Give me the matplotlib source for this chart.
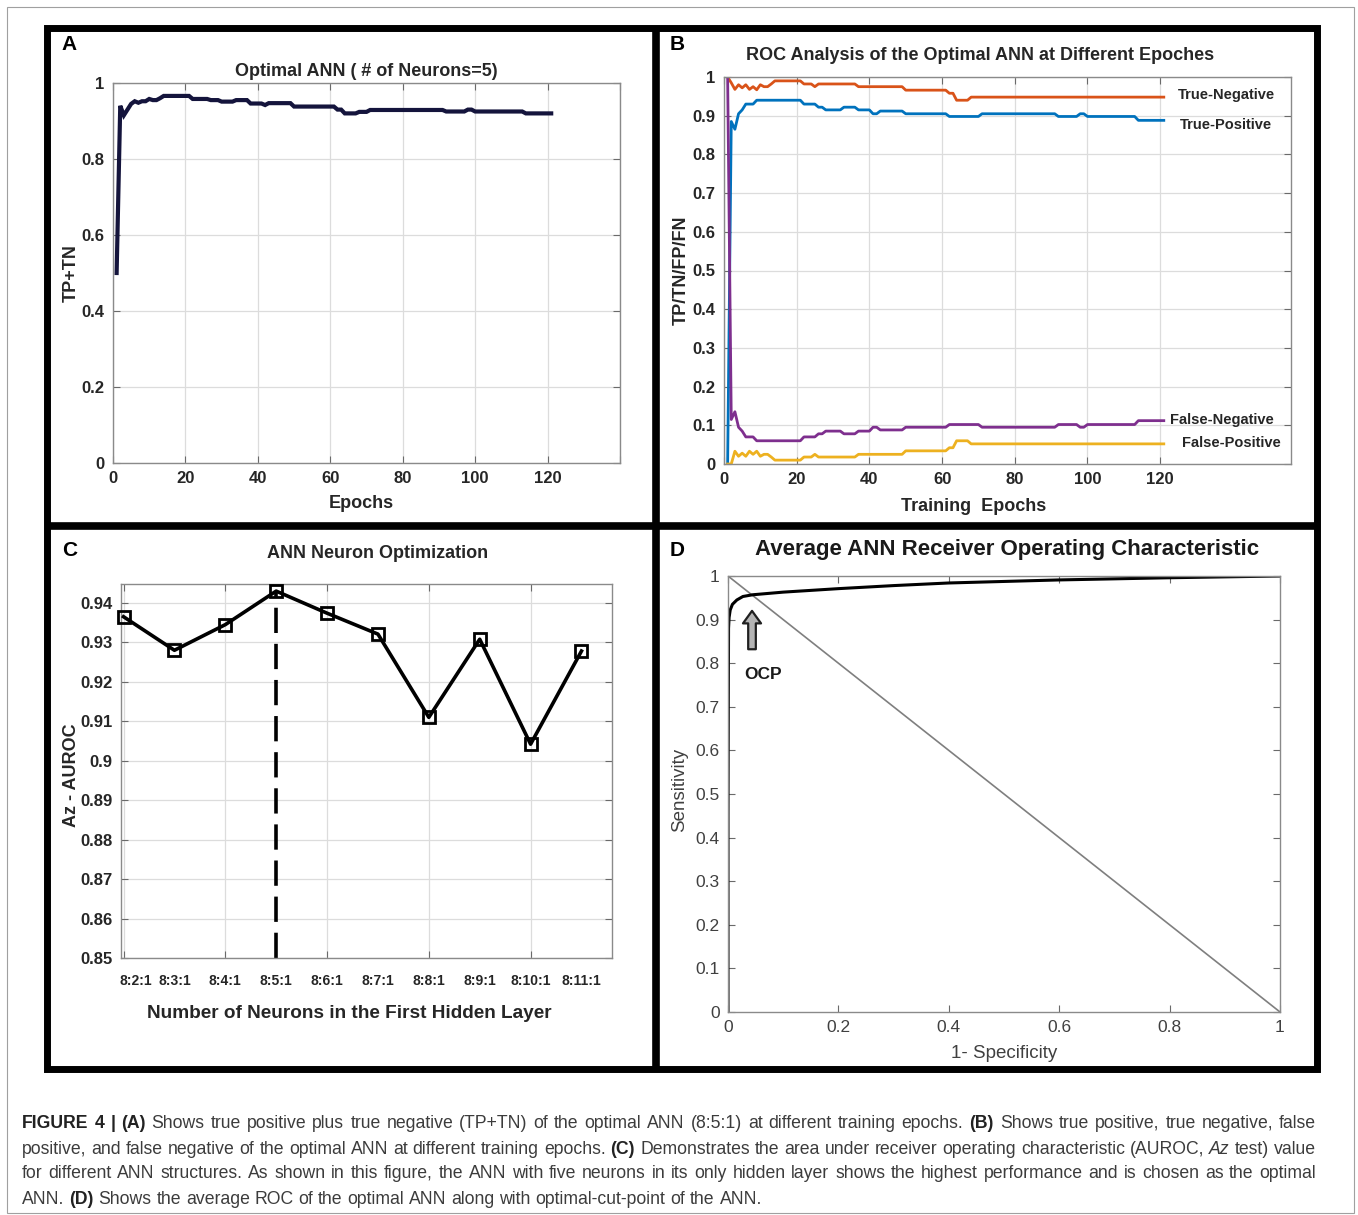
import numpy as np
import matplotlib
matplotlib.use("Agg")
import matplotlib.pyplot as plt
from matplotlib.patches import Rectangle
from matplotlib.lines import Line2D
from matplotlib.ticker import FuncFormatter

plt.rcParams['font.family'] = ['Liberation Sans', 'DejaVu Sans']

W, H = 1358, 1215

# ---------------- data ----------------
# Panel A: TP+TN per epoch (levels and how many epochs each lasts)
a_levels = [0.50, 0.94, 0.915, 0.93, 0.945, 0.952, 0.948, 0.952, 0.958, 0.955, 0.96, 0.966,
            0.958, 0.955, 0.951, 0.955, 0.946, 0.942, 0.947, 0.938, 0.93, 0.92, 0.924, 0.929,
            0.925, 0.93, 0.925, 0.92]
a_counts = [1, 1, 1, 1, 1, 1, 1, 2, 1, 2, 1, 8, 5, 3, 4, 4, 4, 1, 7, 12, 2, 4, 3, 21, 6, 2, 14, 8]

# Panel B
tn_levels = [1.0, 0.985, 0.968, 0.98, 0.972, 0.98, 0.968, 0.975, 0.967, 0.98, 0.975, 0.982,
             0.99, 0.982, 0.975, 0.982, 0.975, 0.966, 0.958, 0.94, 0.948]
fp_levels = [0.0, 0.0, 0.033, 0.02, 0.028, 0.02, 0.033, 0.025, 0.033, 0.02, 0.025, 0.018,
             0.01, 0.018, 0.025, 0.018, 0.025, 0.034, 0.042, 0.06, 0.052]
tn_counts = [1, 1, 1, 1, 1, 1, 1, 1, 1, 1, 2, 1, 8, 3, 1, 11, 13, 12, 2, 4, 54]
tp_levels = [0.0, 0.885, 0.865, 0.905, 0.915, 0.93, 0.94, 0.93, 0.922, 0.915, 0.922, 0.915,
             0.905, 0.912, 0.905, 0.898, 0.905, 0.898, 0.905, 0.898, 0.888]
fn_levels = [1.0, 0.115, 0.135, 0.095, 0.085, 0.07, 0.06, 0.07, 0.078, 0.085, 0.078, 0.085,
             0.095, 0.088, 0.095, 0.102, 0.095, 0.102, 0.095, 0.102, 0.112]
tp_counts = [1, 1, 1, 1, 1, 3, 13, 4, 2, 5, 4, 4, 2, 7, 12, 9, 21, 6, 2, 14, 8]

# Panel C
structures = ['8:2:1', '8:3:1', '8:4:1', '8:5:1', '8:6:1', '8:7:1', '8:8:1', '8:9:1', '8:10:1', '8:11:1']
neurons = [2, 3, 4, 5, 6, 7, 8, 9, 10, 11]
auroc = [0.9365, 0.928, 0.9345, 0.943, 0.9374, 0.9321, 0.911, 0.9308, 0.9042, 0.9278]
best_n = 5

# Panel D: average ROC
fpr = [0.0, 0.0, 0.001, 0.002, 0.004, 0.008, 0.016, 0.027, 0.045, 0.1, 0.2, 0.3, 0.4, 0.6, 0.8, 1.0]
tpr = [0.0, 0.45, 0.88, 0.905, 0.922, 0.935, 0.945, 0.953, 0.957, 0.963, 0.971, 0.978, 0.984, 0.991, 0.996, 1.0]
ocp = (0.0435, 0.92)

caption = [
    [("FIGURE 4 |", "b"), ("(A)", "b"),
     ("Shows true positive plus true negative (TP+TN) of the optimal ANN (8:5:1) at different training epochs.", "n"),
     ("(B)", "b"), ("Shows true positive, true negative, false", "n")],
    [("positive, and false negative of the optimal ANN at different training epochs.", "n"), ("(C)", "b"),
     ("Demonstrates the area under receiver operating characteristic (AUROC,", "n"), ("Az", "i"),
     ("test) value", "n")],
    [("for different ANN structures. As shown in this figure, the ANN with five neurons in its only hidden "
      "layer shows the highest performance and is chosen as the optimal", "n")],
    [("ANN.", "n"), ("(D)", "b"), ("Shows the average ROC of the optimal ANN along with optimal-cut-point of the ANN.", "n")],
]

# ---------------- figure ----------------
fig = plt.figure(figsize=(W / 100, H / 100), dpi=100)


def box(l, t, r, b):
    return fig.add_axes([l / W, 1 - b / H, (r - l) / W, (b - t) / H])


def ftext(x, y, s, **kw):
    fig.text(x / W, 1 - y / H, s, **kw)


fmt = FuncFormatter(lambda v, p: '%g' % round(v, 4))
TXT = '#262626'


def style_ax(ax, bold=True, size=12, grid=True):
    for sp in ax.spines.values():
        sp.set_color('#8a8a8a')
        sp.set_linewidth(1.0)
    ax.tick_params(direction='in', top=True, right=True, length=5, width=0.8, color='#6a6a6a',
                   labelsize=size, labelcolor=TXT, pad=6)
    for lab in ax.get_xticklabels() + ax.get_yticklabels():
        lab.set_fontweight('bold' if bold else 'normal')
    if grid:
        ax.grid(True, color='#dcdcdc', lw=0.9)
        ax.set_axisbelow(True)


# ---- Panel A ----
ax = box(113, 83, 620, 463)
epochs = np.arange(1, 122)
ax.plot(epochs, np.repeat(a_levels, a_counts), color='#14143c', lw=3.0, solid_joinstyle='miter')
ax.set_xlim(0, 140)
ax.set_ylim(0, 1)
ax.set_xticks([0, 20, 40, 60, 80, 100, 120, 140])
ax.set_xticklabels(['0', '20', '40', '60', '80', '100', '120', ''])
ax.set_yticks(np.arange(0, 1.01, 0.2))
ax.yaxis.set_major_formatter(fmt)
style_ax(ax)
ftext(366, 71, 'Optimal ANN ( # of Neurons=5)', fontsize=13, fontweight='bold', ha='center', va='center', color=TXT)
ftext(361, 503, 'Epochs', fontsize=13, fontweight='bold', ha='center', va='center', color=TXT)
ftext(71, 273, 'TP+TN', fontsize=13, fontweight='bold', ha='center', va='center', rotation=90, color=TXT)
ftext(69, 45, 'A', fontsize=15, fontweight='bold', ha='center', va='center')

# ---- Panel B ----
ax = box(724, 77, 1291, 464)
ax.plot(epochs, np.repeat(tn_levels, tn_counts), color='#D95319', lw=2.0)
ax.plot(epochs, np.repeat(tp_levels, tp_counts), color='#0072BD', lw=2.0)
ax.plot(epochs, np.repeat(fn_levels, tp_counts), color='#7E2F8E', lw=2.0)
ax.plot(epochs, np.repeat(fp_levels, tn_counts), color='#EDB120', lw=2.0)
ax.set_xlim(0, 156)
ax.set_ylim(0, 1)
ax.set_xticks([0, 20, 40, 60, 80, 100, 120])
ax.set_yticks(np.arange(0, 1.01, 0.1))
ax.yaxis.set_major_formatter(fmt)
style_ax(ax)
for s, xv, yv in [('True-Negative', 124.8, 0.953), ('True-Positive', 125.3, 0.876),
                  ('False-Negative', 122.8, 0.114), ('False-Positive', 126.0, 0.054)]:
    ax.text(xv, yv, s, fontsize=10.5, fontweight='bold', ha='left', va='center', color=TXT)
ftext(980, 56, 'ROC Analysis of the Optimal ANN at Different Epoches', fontsize=13, fontweight='bold',
      ha='center', va='center', color=TXT)
ftext(974, 506, 'Training  Epochs', fontsize=13, fontweight='bold', ha='center', va='center', color=TXT)
ftext(681, 270, 'TP/TN/FP/FN', fontsize=13, fontweight='bold', ha='center', va='center', rotation=90, color=TXT)
ftext(677, 45, 'B', fontsize=15, fontweight='bold', ha='center', va='center')

# ---- Panel C ----
ax = box(121, 584, 612, 958)
ax.plot(neurons, auroc, color='black', lw=2.6, marker='s', ms=9, mfc='none', mec='black', mew=2.0,
        clip_on=False, zorder=3)
ax.plot([best_n, best_n], [0.85, max(auroc)], color='black', lw=2.6, ls=(0, (7, 3)), zorder=2)
ax.set_xlim(1.95, 11.6)
ax.set_ylim(0.85, 0.9448)
ax.set_xticks([2, 4, 6, 8, 10])
ax.set_xticklabels([])
ax.set_yticks(np.arange(0.85, 0.9401, 0.01))
ax.yaxis.set_major_formatter(fmt)
style_ax(ax)
for n, s in zip(neurons, structures):
    ax.text(max(n, 2.25), -0.062, s, transform=ax.get_xaxis_transform(), fontsize=10, fontweight='bold',
            ha='center', va='center', color=TXT)
ftext(378, 554, 'ANN Neuron Optimization', fontsize=13, fontweight='bold', ha='center', va='center', color=TXT)
ftext(349, 1014, 'Number of Neurons in the First Hidden Layer', fontsize=13.7, fontweight='bold',
      ha='center', va='center', color=TXT)
ftext(72, 775, 'Az - AUROC', fontsize=13, fontweight='bold', ha='center', va='center', rotation=90, color=TXT)
ftext(70, 551, 'C', fontsize=15, fontweight='bold', ha='center', va='center')

# ---- Panel D ----
ax = box(728, 576, 1280, 1012)
ax.plot([0, 1], [1, 0], color='#7f7f7f', lw=1.2)
ax.plot(fpr, tpr, color='black', lw=2.2, solid_joinstyle='round')
ax.set_xlim(0, 1)
ax.set_ylim(0, 1)
ax.set_xticks(np.arange(0, 1.01, 0.2))
ax.set_yticks(np.arange(0, 1.01, 0.1))
ax.xaxis.set_major_formatter(fmt)
ax.yaxis.set_major_formatter(fmt)
style_ax(ax, bold=False, size=12.5, grid=False)
ax.tick_params(labelcolor='#404040')
ax.annotate('', xy=ocp, xytext=(ocp[0], 0.832),
            arrowprops=dict(arrowstyle='simple,head_width=1.3,head_length=0.9,tail_width=0.55',
                            fc='#b4b4b4', ec='#202020', lw=1.6, shrinkA=0, shrinkB=0))
ax.text(0.0634, 0.773, 'OCP', fontsize=12.5, fontweight='bold', ha='center', va='center', color='#1a1a1a')
ftext(1007, 550, 'Average ANN Receiver Operating Characteristic', fontsize=16, fontweight='bold',
      ha='center', va='center', color='#1a1a1a')
ftext(1004, 1053, '1- Specificity', fontsize=13.5, ha='center', va='center', color='#404040')
ftext(680, 790, 'Sensitivity', fontsize=13.5, ha='center', va='center', rotation=90, color='#404040')
ftext(677, 551, 'D', fontsize=15, fontweight='bold', ha='center', va='center')

# ---- frames ----
fig.add_artist(Rectangle((7 / W, 1 - 1213 / H), 1347 / W, 1206 / H, transform=fig.transFigure,
                         fill=False, ec='#a0a0a0', lw=0.8))
fig.add_artist(Rectangle((46.5 / W, 1 - 1068.5 / H), 1270 / W, 1041 / H, transform=fig.transFigure,
                         fill=False, ec='black', lw=5.0, joinstyle='miter'))
fig.add_artist(Line2D([656 / W, 656 / W], [1 - 27.5 / H, 1 - 1068.5 / H], transform=fig.transFigure,
                      color='black', lw=5.5, solid_capstyle='butt'))
fig.add_artist(Line2D([46.5 / W, 1316.5 / W], [1 - 526 / H, 1 - 526 / H], transform=fig.transFigure,
                      color='black', lw=5.5, solid_capstyle='butt'))

# ---- caption (word by word, justified) ----
renderer = fig.canvas.get_renderer()
cap_size = 12.5
styles = {'n': dict(color='#3c3c3c'), 'b': dict(color='#222222', fontweight='bold'),
          'i': dict(color='#3c3c3c', style='italic')}


def word_w(s, st, size):
    t = fig.text(0, 0, s, fontsize=size, **styles[st])
    w = t.get_window_extent(renderer).width
    t.remove()
    return w


# pick size so the plain third line fits the text block width
x0, x1 = 22, 1316
plain = [(w, 'n') for seg in caption[2] for w in seg[0].split()]
nat = sum(word_w(w, s, cap_size) for w, s in plain) + (len(plain) - 1) * (word_w('a a', 'n', cap_size) - word_w('aa', 'n', cap_size))
cap_size = cap_size * (x1 - x0) / nat * 0.985
space = word_w('a a', 'n', cap_size) - word_w('aa', 'n', cap_size)

for i, line in enumerate(caption):
    words = [(w, st) for seg, st in line for w in seg.split()]
    widths = [word_w(w, st, cap_size) for w, st in words]
    if i < len(caption) - 1:
        gap = (x1 - x0 - sum(widths)) / (len(words) - 1)
    else:
        gap = space
    x = x0
    y = 1122 + 25 * i
    for (w, st), ww in zip(words, widths):
        ftext(x, y, w, fontsize=cap_size, ha='left', va='center_baseline', **styles[st])
        x += ww + gap

fig.savefig('out.png', dpi=100)
